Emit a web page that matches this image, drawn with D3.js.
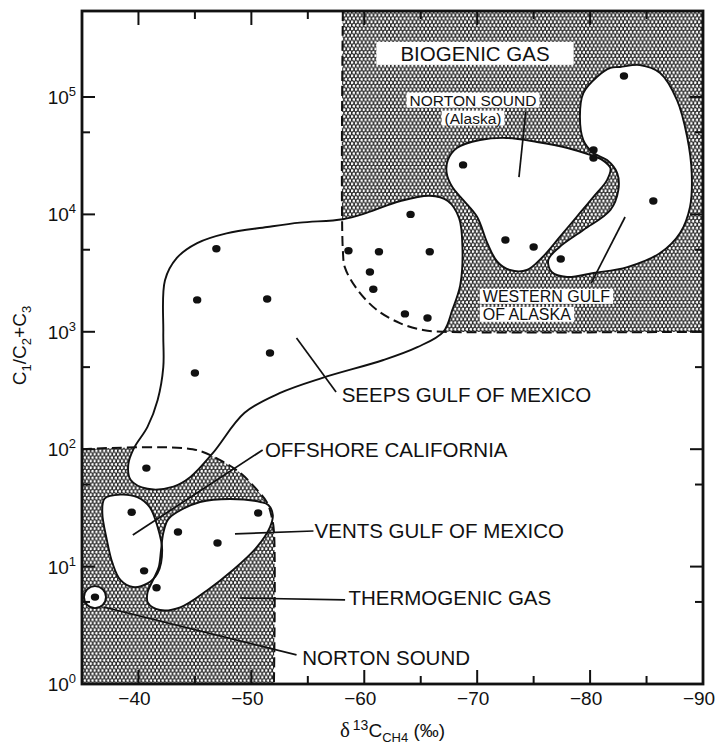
<!DOCTYPE html>
<html>
<head>
<meta charset="utf-8">
<script src="https://cdn.jsdelivr.net/npm/d3@7"></script>
<style>
  html, body { margin: 0; padding: 0; background: #fff; }
  svg text { font-family: "Liberation Sans", Arial, Helvetica, sans-serif; fill: #111; }
</style>
</head>
<body>
<svg id="chart" width="720" height="744"></svg>
<script>
// Axis ticks
const xMajorTicks = [-40, -50, -60, -70, -80, -90];
const xMinorTicks = [-45, -55, -65, -75, -85];
const yMajorTicks = [1, 10, 100, 1000, 10000, 100000];
const yMinorTicks = [5, 50, 500, 5000, 50000];
const xDomain = [-35, -90];
const yDomain = [1, 540000];

// Field boundaries [d13C, C1/(C2+C3)]
const biogenicEdge = [[-58.1, 540000], [-58.1, 5000], [-58.3, 3500], [-59.4, 2280], [-61.1, 1540],
  [-63.2, 1180], [-65.2, 1035], [-67, 1000], [-90, 1000]];
const thermogenicEdge = [[-35, 100], [-44.8, 100], [-47.2, 81], [-49.0, 63], [-50.5, 45],
  [-51.4, 35], [-51.8, 26.5], [-52, 20], [-52, 1]];

// Sample groups: outlines and points
const seepsOutline = [[-42.2, 980], [-42.35, 2750], [-43.4, 4260], [-45.2, 5700], [-47.8, 6900],
  [-51.4, 7800], [-54.3, 8500], [-58.1, 9100], [-60.2, 10300], [-63.2, 13000], [-65.8, 14400],
  [-67.4, 13000], [-68.4, 9300], [-68.7, 5000], [-68.5, 2500], [-67.8, 1540], [-67.0, 1000],
  [-64.7, 740], [-61.7, 575], [-56.3, 405], [-52.5, 300], [-49.4, 204], [-46.6, 93], [-44.6, 58],
  [-43.1, 48], [-40.8, 46], [-39.3, 55], [-39.1, 74], [-39.6, 102], [-40.8, 155], [-41.7, 263],
  [-42.2, 500]];
const seepsPoints = [[-46.9, 5100], [-45.2, 1870], [-51.4, 1900], [-51.65, 660], [-45.0, 445],
  [-40.7, 69], [-64.1, 10000], [-58.6, 4900], [-61.3, 4800], [-65.8, 4800], [-60.5, 3230],
  [-60.8, 2300], [-63.6, 1420], [-65.6, 1310]];

const californiaOutline = [[-37.0, 38], [-38.4, 41], [-39.9, 39], [-41.0, 32], [-41.7, 21.7],
  [-42.1, 13.8], [-41.7, 8.8], [-40.8, 7.2], [-39.5, 6.7], [-38.4, 7.7], [-37.7, 10.7],
  [-37.2, 16.9], [-36.8, 28.6]];
const californiaPoints = [[-39.4, 29], [-40.5, 9.2]];

const ventsOutline = [[-42.6, 25], [-43.4, 29], [-45.45, 35.5], [-48.1, 37.7], [-50.8, 35.5],
  [-51.5, 33.5], [-51.9, 27.5], [-51.65, 21.7], [-50.5, 14.7], [-48.4, 9.4], [-46.1, 6.3],
  [-43.7, 4.5], [-41.9, 4.27], [-40.85, 4.9], [-40.8, 6.0], [-41.3, 7.7], [-41.8, 9.9],
  [-42.0, 13.8], [-42.2, 19.3]];
const ventsPoints = [[-43.5, 19.7], [-47.0, 15.9], [-50.6, 28.6], [-41.6, 6.6]];

const nortonAlaskaOutline = [[-67.4, 29000], [-68.2, 36800], [-70.25, 43000], [-72.6, 44800],
  [-75.3, 41400], [-78.0, 36800], [-80.0, 32100], [-81.1, 29000], [-81.8, 24800], [-81.5, 19600],
  [-80.3, 14100], [-78.8, 9500], [-77.3, 6400], [-75.8, 4340], [-74.4, 3360], [-72.9, 3360],
  [-71.8, 3930], [-70.9, 5700], [-70.0, 9500], [-68.75, 13300], [-67.8, 17100], [-67.3, 22500]];
const nortonAlaskaPoints = [[-68.75, 26400], [-72.5, 6050], [-75.0, 5280], [-80.3, 35400], [-80.3, 30200]];

const westernGulfOutline = [[-82.65, 180000], [-84.4, 187000], [-86.2, 160000], [-87.7, 94000],
  [-88.6, 45600], [-89.0, 22500], [-88.85, 11600], [-87.97, 6950], [-86.2, 4690], [-83.3, 3560],
  [-80.3, 3170], [-77.96, 2930], [-76.6, 3230], [-76.3, 4090], [-77.3, 5280], [-79.4, 7360],
  [-81.8, 10900], [-82.5, 16100], [-82.4, 22500], [-81.5, 29000], [-80.3, 33300], [-79.4, 43000],
  [-79.1, 67600], [-79.4, 108000], [-80.6, 148000], [-81.8, 177000]];
const westernGulfPoints = [[-83.0, 151000], [-85.6, 13000], [-77.4, 4170]];

const nortonSoundPoint = [-36.15, 5.5];

// Annotations: label anchor and leader line ends
const labelNames = ['SEEPS GULF OF MEXICO', 'OFFSHORE CALIFORNIA', 'VENTS GULF OF MEXICO',
  'THERMOGENIC GAS', 'NORTON SOUND'];
const labelAnchors = [[-58.0, 252], [-51.2, 86], [-55.6, 17.5], [-58.6, 4.7], [-54.5, 1.45]];
const leaderLines = [
  [[-54.0, 885], [-57.5, 307]],
  [[-51.0, 98.5], [-39.5, 18.6]],
  [[-48.55, 19], [-55.5, 20.1]],
  [[-49.0, 5.4], [-58.3, 5.2]],
  [[-36.9, 4.53], [-54.0, 1.77]],
  [[-74.3, 74500], [-73.7, 20800]],
  [[-83.1, 9500], [-80.1, 2600]]
];
const biogenicLabel = { text: 'BIOGENIC GAS', at: [-63.2, 203000] };
const nortonAlaskaLabel = { lines: ['NORTON SOUND', '(Alaska)'], at: [-69.63, 84500] };
const westernGulfLabel = { lines: ['WESTERN GULF', 'OF ALASKA'], at: [-70.5, 1800] };

// ---------------------------------------------------------------
const svg = d3.select('#chart');
const plot = { left: 82, right: 703, top: 11, bottom: 684 };

const x = d3.scaleLinear().domain(xDomain).range([plot.left, plot.right]);
const y = d3.scaleLog().domain(yDomain).range([plot.bottom, plot.top]);

// stipple screen (hex dot pattern)
const pw = 3.9, ph = 3.9 * Math.sqrt(3);
const defs = svg.append('defs');
const pat = defs.append('pattern')
  .attr('id', 'stipple')
  .attr('patternUnits', 'userSpaceOnUse')
  .attr('width', pw)
  .attr('height', ph);
pat.append('rect').attr('width', pw).attr('height', ph).attr('fill', '#262626');
pat.append('circle').attr('cx', pw / 4).attr('cy', ph / 4).attr('r', 1.42).attr('fill', '#fff');
pat.append('circle').attr('cx', pw * 3 / 4).attr('cy', ph * 3 / 4).attr('r', 1.42).attr('fill', '#fff');

const gRegions = svg.append('g');
const gBg = svg.append('g');
const gShapes = svg.append('g');
const gDashed = svg.append('g');
const gEdges = svg.append('g');
const gLeaders = svg.append('g');
const gDots = svg.append('g');
const gText = svg.append('g');
const gFrame = svg.append('g');

const openCurve = d3.line().x(d => x(d[0])).y(d => y(d[1])).curve(d3.curveCatmullRom.alpha(0.5));
const closedCurve = d3.line().x(d => x(d[0])).y(d => y(d[1])).curve(d3.curveCatmullRomClosed.alpha(0.5));

// Gas fields
gRegions.append('path')
  .attr('d', openCurve(biogenicEdge) + `L${x(-90)},${y(yDomain[1])}Z`)
  .attr('fill', 'url(#stipple)');
gRegions.append('path')
  .attr('d', openCurve(thermogenicEdge) + `L${x(-35)},${y(1)}Z`)
  .attr('fill', 'url(#stipple)');

// Sample outlines (white fill)
const outlines = [seepsOutline, californiaOutline, ventsOutline, nortonAlaskaOutline, westernGulfOutline];
gShapes.selectAll('path')
  .data(outlines)
  .join('path')
  .attr('d', d => closedCurve(d))
  .attr('fill', '#fff');
gShapes.append('circle')
  .attr('cx', x(nortonSoundPoint[0]))
  .attr('cy', y(nortonSoundPoint[1]))
  .attr('r', 11)
  .attr('fill', '#fff');

// dashed field boundaries
[biogenicEdge, thermogenicEdge].forEach(edge => {
  gDashed.append('path')
    .attr('d', openCurve(edge))
    .attr('fill', 'none')
    .attr('stroke', '#111')
    .attr('stroke-width', 2)
    .attr('stroke-dasharray', '10,5');
});

// outline strokes
gEdges.selectAll('path')
  .data(outlines)
  .join('path')
  .attr('d', d => closedCurve(d))
  .attr('fill', 'none')
  .attr('stroke', '#111')
  .attr('stroke-width', 1.9);
gEdges.append('circle')
  .attr('cx', x(nortonSoundPoint[0]))
  .attr('cy', y(nortonSoundPoint[1]))
  .attr('r', 11)
  .attr('fill', 'none')
  .attr('stroke', '#111')
  .attr('stroke-width', 1.9);

// leader lines
gLeaders.selectAll('line')
  .data(leaderLines)
  .join('line')
  .attr('x1', d => x(d[0][0])).attr('y1', d => y(d[0][1]))
  .attr('x2', d => x(d[1][0])).attr('y2', d => y(d[1][1]))
  .attr('stroke', '#111')
  .attr('stroke-width', 1.7);

// points
const allPoints = [].concat(seepsPoints, californiaPoints, ventsPoints,
  nortonAlaskaPoints, westernGulfPoints, [nortonSoundPoint]);
gDots.selectAll('ellipse')
  .data(allPoints)
  .join('ellipse')
  .attr('cx', d => x(d[0]))
  .attr('cy', d => y(d[1]))
  .attr('rx', 4.2)
  .attr('ry', 3.7)
  .attr('fill', '#111');

// labels
gText.selectAll('text.lab')
  .data(labelNames)
  .join('text')
  .attr('class', 'lab')
  .attr('x', (d, i) => x(labelAnchors[i][0]))
  .attr('y', (d, i) => y(labelAnchors[i][1]))
  .attr('font-size', 20.5)
  .text(d => d);

function whiteBox(b, padX, padY) {
  gBg.append('rect')
    .attr('x', b.x - padX).attr('y', b.y - padY)
    .attr('width', b.width + 2 * padX).attr('height', b.height + 2 * padY)
    .attr('fill', '#fff');
}

const bio = gText.append('text')
  .attr('x', x(biogenicLabel.at[0]))
  .attr('y', y(biogenicLabel.at[1]))
  .attr('font-size', 20.5)
  .text(biogenicLabel.text);
whiteBox(bio.node().getBBox(), 24, 0);

// two-line labels: one text element, a white box behind each line
function multiLine(label, anchor, size, step) {
  const x0 = x(label.at[0]), y0 = y(label.at[1]);
  label.lines.forEach((t, i) => {
    const probe = gText.append('text')
      .attr('x', x0).attr('y', y0 + i * step)
      .attr('text-anchor', anchor).attr('font-size', size).text(t);
    const b = probe.node().getBBox();
    probe.remove();
    whiteBox({ x: b.x, y: b.y + 2, width: b.width, height: b.height - 4 }, 3, 1);
  });
  const tx = gText.append('text')
    .attr('text-anchor', anchor)
    .attr('font-size', size);
  label.lines.forEach((t, i) => {
    tx.append('tspan').attr('x', x0).attr('y', y0 + i * step).text(t);
  });
}
multiLine(nortonAlaskaLabel, 'middle', 15.5, 18);
multiLine(westernGulfLabel, 'start', 16, 18);

// frame and ticks
gFrame.append('rect')
  .attr('x', plot.left).attr('y', plot.top)
  .attr('width', plot.right - plot.left).attr('height', plot.bottom - plot.top)
  .attr('fill', 'none').attr('stroke', '#111').attr('stroke-width', 2.8);

function xTicks(vals, len) {
  vals.forEach(v => {
    gFrame.append('line').attr('x1', x(v)).attr('x2', x(v))
      .attr('y1', plot.bottom).attr('y2', plot.bottom - len)
      .attr('stroke', '#111').attr('stroke-width', 2);
    gFrame.append('line').attr('x1', x(v)).attr('x2', x(v))
      .attr('y1', plot.top).attr('y2', plot.top + len)
      .attr('stroke', '#111').attr('stroke-width', 2);
  });
}
function yTicks(vals, len) {
  vals.forEach(v => {
    gFrame.append('line').attr('x1', plot.left).attr('x2', plot.left + len)
      .attr('y1', y(v)).attr('y2', y(v))
      .attr('stroke', '#111').attr('stroke-width', 2);
    gFrame.append('line').attr('x1', plot.right).attr('x2', plot.right - len)
      .attr('y1', y(v)).attr('y2', y(v))
      .attr('stroke', '#111').attr('stroke-width', 2);
  });
}
xTicks(xMajorTicks.slice(0, -1), 14);
xTicks(xMinorTicks, 8);
yTicks(yMajorTicks.slice(1), 13);
yTicks(yMinorTicks, 8);

// tick labels
gFrame.selectAll('text.xt')
  .data(xMajorTicks)
  .join('text')
  .attr('class', 'xt')
  .attr('x', d => x(d))
  .attr('dx', -4)
  .attr('y', plot.bottom + 21)
  .attr('text-anchor', 'middle')
  .attr('font-size', 19)
  .text(d => '\u2212' + Math.abs(d));

yMajorTicks.forEach(v => {
  const t = gFrame.append('text')
    .attr('x', plot.left - 6)
    .attr('y', y(v) + 7)
    .attr('text-anchor', 'end')
    .attr('font-size', 19);
  t.append('tspan').text('10');
  t.append('tspan').attr('dy', -8).attr('font-size', 13).text(Math.round(Math.log10(v)));
});

// axis titles
const xt = gFrame.append('text')
  .attr('x', (plot.left + plot.right) / 2)
  .attr('y', 737)
  .attr('text-anchor', 'middle')
  .attr('font-size', 19);
xt.append('tspan').attr('font-family', '"Liberation Serif", serif').attr('font-size', 21).text('\u03b4');
xt.append('tspan').attr('dy', -7).attr('font-size', 14).attr('dx', 3).text('13');
xt.append('tspan').attr('dy', 7).text('C');
xt.append('tspan').attr('dy', 5).attr('font-size', 13).text('CH4');
xt.append('tspan').attr('dy', -5).text(' (\u2030)');

const yt = gFrame.append('text')
  .attr('transform', `translate(26,${(plot.top + plot.bottom) / 2 - 2}) rotate(-90)`)
  .attr('text-anchor', 'middle')
  .attr('font-size', 19);
yt.append('tspan').text('C');
yt.append('tspan').attr('dy', 5).attr('font-size', 13).text('1');
yt.append('tspan').attr('dy', -5).text('/C');
yt.append('tspan').attr('dy', 5).attr('font-size', 13).text('2');
yt.append('tspan').attr('dy', -5).text('+C');
yt.append('tspan').attr('dy', 5).attr('font-size', 13).text('3');
</script>
</body>
</html>
